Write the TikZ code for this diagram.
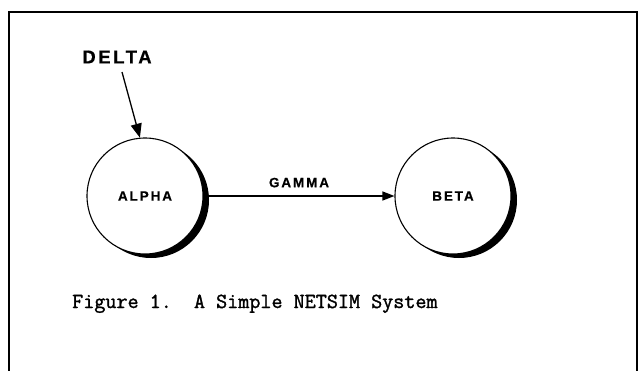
\documentclass[tikz,border=0pt]{standalone}
\usepackage{fontspec}
\setmainfont{Liberation Sans}
\newfontfamily\labelfont[LetterSpace=14, FakeBold=0.6]{Liberation Sans Bold}
\newfontfamily\captionfont[FakeBold=1.4]{Latin Modern Mono}
\usetikzlibrary{arrows.meta}
\tikzset{
  frameline/.style={line width=1.6pt, line cap=rect},
  state/.style={circle, draw=black, line width=1.1pt, fill=white,
    minimum size=116pt, inner sep=0pt, font=\labelfont\fontsize{13.5}{15}\selectfont},
  shadowdisc/.style={circle, fill=black, minimum size=116pt, inner sep=0pt},
  flow/.style={line width=1.3pt, -{Triangle[length=12pt,width=9pt]}},
  inlabel/.style={font=\labelfont\fontsize{18.5}{20}\selectfont, inner sep=0pt},
  flowlabel/.style={font=\labelfont\fontsize{13.5}{15}\selectfont, inner sep=0pt},
}
\begin{document}
\begin{tikzpicture}[x=1pt, y=-1pt]
  \useasboundingbox (0,0) rectangle (640,370);
  % open frame running off the lower edge
  \draw[frameline] (9,372) -- (9,12) -- (637,12) -- (637,372);

  % offset black discs give each state its shadow crescent
  \node[shadowdisc] (alphashadow) at (151,200) {};
  \node[shadowdisc] (betashadow) at (459,200) {};
  \node[state] (alpha) at (145,196) {ALPHA};
  \node[state] (beta) at (453,196) {BETA};

  \node[inlabel] (delta) at (117,57) {DELTA};
  \coordinate (deltatail) at (122,72);
  \draw[flow, -{Triangle[length=14pt,width=11pt]}] (deltatail) -- (alpha.95);

  \draw[flow] (alpha.east) -- (beta.west)
    node[flowlabel, midway, above=8pt] (gamma) {GAMMA};

  \node[font=\captionfont\fontsize{21.5}{23}\selectfont, anchor=base west, inner sep=0pt]
    (caption) at (72,308) {Figure 1.\ \ A Simple NETSIM System};
\end{tikzpicture}
\end{document}
